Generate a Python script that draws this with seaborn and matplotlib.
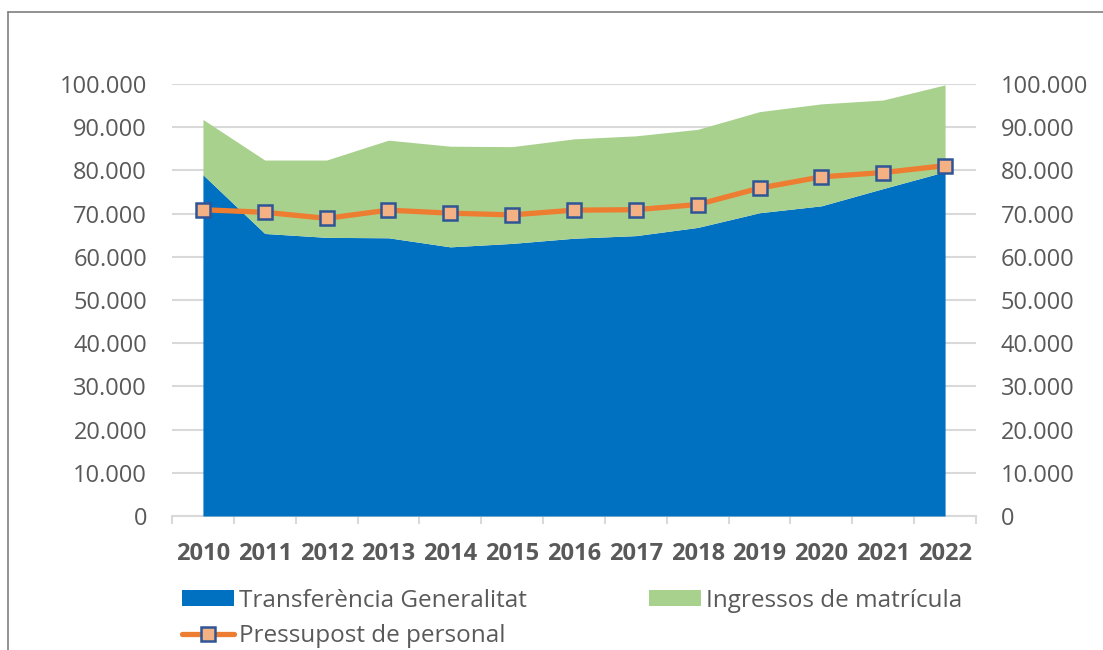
import matplotlib
matplotlib.use("Agg")
import matplotlib.pyplot as plt
from matplotlib.lines import Line2D
from matplotlib.patches import Patch
from matplotlib.ticker import FuncFormatter, FixedLocator
import seaborn as sns
import numpy as np
import pandas as pd

years = ["2010", "2011", "2012", "2013", "2014", "2015", "2016",
         "2017", "2018", "2019", "2020", "2021", "2022"]
transferencia = [79000, 65400, 64500, 64400, 62300, 63100, 64300,
                 64900, 66800, 70200, 71800, 75800, 79700]
ingressos = [12800, 17000, 17900, 22600, 23300, 22400, 23000,
             23100, 22700, 23400, 23600, 20500, 20100]
pressupost = [70900, 70300, 68900, 70800, 70100, 69700, 70800,
              70900, 72100, 75900, 78500, 79500, 81100]

label_transf = "Transferència Generalitat"
label_ingr = "Ingressos de matrícula"
label_press = "Pressupost de personal"

sns.set_theme(style="white")
plt.rcParams["font.family"] = ["Open Sans", "DejaVu Sans"]

BLUE = "#0070C0"
GREEN = "#A9D18E"
ORANGE = "#ED7D31"
MFACE = "#F4B183"
MEDGE = "#2F5597"
GRID = "#D9D9D9"
TXT = "#595959"
FS = 17
LFS = 17.5

fig = plt.figure(figsize=(11.03, 6.5), dpi=100)
ax = fig.add_axes([172 / 1103, 1 - 516 / 650, (976 - 172) / 1103, (516 - 84) / 650])

x = np.arange(len(years))
t = np.array(transferencia)
g = np.array(ingressos)
ax.fill_between(x, 0, t, color=BLUE, linewidth=0, zorder=2)
ax.fill_between(x, t, t + g, color=GREEN, linewidth=0, zorder=2)

df = pd.DataFrame({"x": x, "v": pressupost})
sns.lineplot(data=df, x="x", y="v", ax=ax, color=ORANGE, linewidth=3.8,
             marker="s", markersize=10, markerfacecolor=MFACE,
             markeredgecolor=MEDGE, markeredgewidth=1.8, zorder=4)

ax.set_xlim(-0.5, len(years) - 0.5)
ax.set_ylim(0, 100000)
ax.set_xlabel("")
ax.set_ylabel("")

fmt = FuncFormatter(lambda v, p: f"{int(v):,}".replace(",", "."))
yt = np.arange(0, 100001, 10000)
ax.set_yticks(yt)
ax.yaxis.set_major_formatter(fmt)
ax.yaxis.grid(True, color=GRID, linewidth=1.5, zorder=0)
ax.set_axisbelow(True)
ax.tick_params(axis="y", length=0, pad=18, labelsize=FS, labelcolor=TXT)

ax.set_xticks(x)
ax.set_xticklabels(years, fontweight="bold")
ax.xaxis.set_minor_locator(FixedLocator(np.arange(-0.5, len(years), 1.0)))
ax.tick_params(axis="x", which="major", length=0, pad=19, labelsize=FS, labelcolor=TXT)
ax.tick_params(axis="x", which="minor", length=5.8, width=1.5, color=GRID, bottom=True)

for s in ["left", "right", "top"]:
    ax.spines[s].set_visible(False)
ax.spines["bottom"].set_color(GRID)
ax.spines["bottom"].set_linewidth(1.5)
ax.spines["bottom"].set_zorder(1)

ax2 = ax.twinx()
ax2.set_ylim(0, 100000)
ax2.set_yticks(yt)
ax2.yaxis.set_major_formatter(fmt)
ax2.tick_params(axis="y", length=0, pad=18, labelsize=FS, labelcolor=TXT)
for s in ax2.spines.values():
    s.set_visible(False)
ax2.grid(False)

handles = [
    Patch(facecolor=BLUE, edgecolor="none", label=label_transf),
    Line2D([], [], color=ORANGE, linewidth=3.8, marker="s", markersize=10,
           markerfacecolor=MFACE, markeredgecolor=MEDGE, markeredgewidth=1.8,
           label=label_press),
    Patch(facecolor=GREEN, edgecolor="none", label=label_ingr),
]
leg = fig.legend(handles=handles, ncol=2, loc="upper left",
                 bbox_to_anchor=(182 / 1103, 1 - 589 / 650),
                 frameon=False, fontsize=LFS, labelcolor=TXT,
                 handlelength=2.14, handleheight=0.63, handletextpad=0.22,
                 columnspacing=5.0, labelspacing=0.45, borderpad=0,
                 borderaxespad=0)

fig.add_artist(Line2D([8 / 1103, 1.0], [1 - 12 / 650, 1 - 12 / 650],
                      transform=fig.transFigure, color="#7F7F7F", linewidth=1.2))
fig.add_artist(Line2D([8 / 1103, 8 / 1103], [0, 1 - 12 / 650],
                      transform=fig.transFigure, color="#7F7F7F", linewidth=1.2))

fig.savefig("out.png", dpi=100)
